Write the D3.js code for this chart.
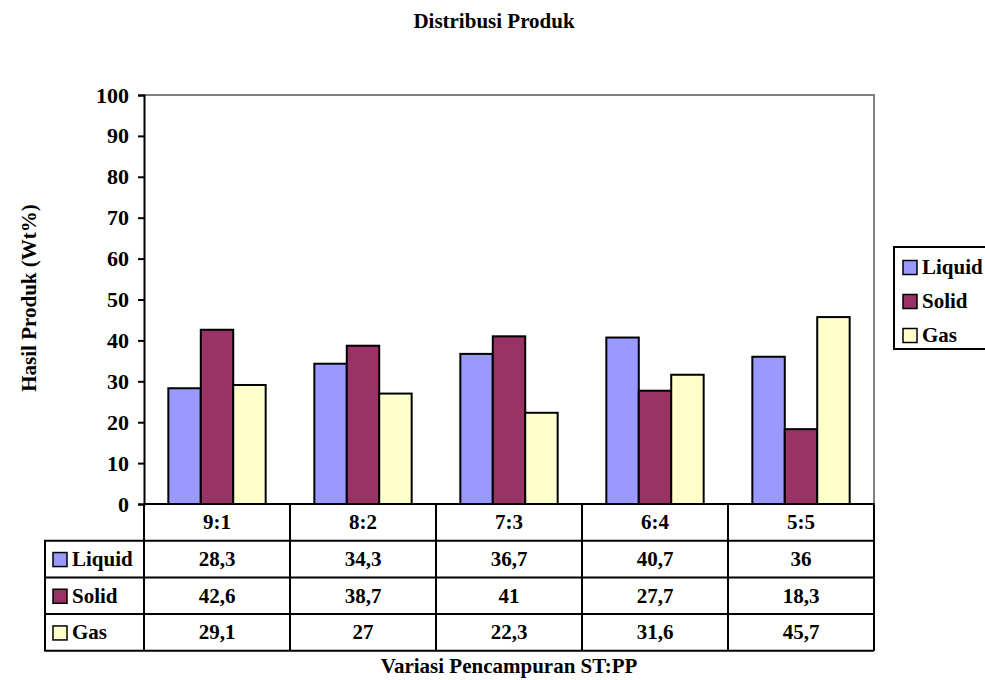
<!DOCTYPE html>
<html>
<head>
<meta charset="utf-8">
<script src="https://cdn.jsdelivr.net/npm/d3@7"></script>
<style>
  html, body { margin: 0; padding: 0; background: #fff; }
  svg { display: block; }
  text { font-family: "Liberation Serif", "Times New Roman", serif; font-weight: bold; fill: #000; }
</style>
</head>
<body>
<svg id="chart" width="985" height="680"></svg>
<script>
// Product distribution per ST:PP blending ratio
const categories = ["9:1", "8:2", "7:3", "6:4", "5:5"];
const seriesNames = ["Liquid", "Solid", "Gas"];
const liquid = [28.3, 34.3, 36.7, 40.7, 36];
const solid = [42.6, 38.7, 41, 27.7, 18.3];
const gas = [29.1, 27, 22.3, 31.6, 45.7];
const yTicks = [0, 10, 20, 30, 40, 50, 60, 70, 80, 90, 100];
const colors = ["#9999FF", "#993366", "#FFFFCC"];

const seriesValues = [liquid, solid, gas];
const series = seriesNames.map((name, i) => ({ name, values: seriesValues[i], color: colors[i] }));

const svg = d3.select("#chart");
const plot = { left: 144, right: 874, top: 95, bottom: 504 };
const rowH = 36.7;
const fs = "21px";

const x0 = d3.scaleBand().domain(categories)
  .range([plot.left, plot.right]).paddingInner(1 / 3).paddingOuter(1 / 6);
const x1 = d3.scaleBand().domain(seriesNames).range([0, x0.bandwidth()]);
const y = d3.scaleLinear().domain([0, 100]).range([plot.bottom, plot.top]);

const fmt = d3.formatLocale({ decimal: ",", thousands: ".", grouping: [3], currency: ["", ""] }).format("~f");

// title
svg.append("text").attr("x", 494).attr("y", 28).attr("text-anchor", "middle")
  .style("font-size", fs).text("Distribusi Produk");

// plot area frame (grey top/right)
svg.append("path")
  .attr("d", `M${plot.left},${plot.top}H${plot.right}V${plot.bottom}`)
  .attr("fill", "none").attr("stroke", "#808080").attr("stroke-width", 2);

// bars
const groups = svg.append("g").selectAll("g").data(categories).join("g")
  .attr("transform", d => `translate(${x0(d)},0)`);
groups.selectAll("rect")
  .data((c, ci) => series.map(s => ({ s, v: s.values[ci] })))
  .join("rect")
  .attr("x", d => x1(d.s.name))
  .attr("y", d => y(d.v))
  .attr("width", x1.bandwidth())
  .attr("height", d => y(0) - y(d.v))
  .attr("fill", d => d.s.color)
  .attr("stroke", "#000").attr("stroke-width", 2);

// y axis
const yAxis = d3.axisLeft(y).tickValues(yTicks).tickSize(6).tickPadding(9).tickFormat(d3.format("d"));
const gy = svg.append("g").attr("transform", `translate(${plot.left},0)`).call(yAxis);
gy.select(".domain").attr("stroke", "#000").attr("stroke-width", 2);
gy.selectAll(".tick line").attr("stroke", "#000").attr("stroke-width", 2);
gy.selectAll(".tick text").style("font-size", "22px")
  .style("font-family", "'Liberation Serif', 'Times New Roman', serif").style("font-weight", "bold")
  .attr("fill", "#000");

// y axis title
svg.append("text").attr("transform", "translate(36,298) rotate(-90)")
  .attr("text-anchor", "middle").style("font-size", fs).text("Hasil Produk (Wt%)");

// data table below the plot
const table = svg.append("g");
const tableLeft = 45;
const rowsY = d3.range(5).map(i => plot.bottom + i * rowH);
const lineStyle = sel => sel.attr("stroke", "#000").attr("stroke-width", 2).attr("fill", "none");

// header row (category labels)
table.append("path").call(lineStyle)
  .attr("d", `M${plot.left},${rowsY[0]}H${plot.right}V${rowsY[4]}`);
// series rows
table.append("path").call(lineStyle)
  .attr("d", `M${plot.right},${rowsY[1]}H${tableLeft}V${rowsY[4]}H${plot.right}`);
[2, 3].forEach(r => table.append("path").call(lineStyle)
  .attr("d", `M${tableLeft},${rowsY[r]}H${plot.right}`));
// column separators
d3.range(categories.length + 1).forEach(i => {
  const xx = plot.left + i * x0.step();
  table.append("path").call(lineStyle).attr("d", `M${xx},${rowsY[0]}V${rowsY[4]}`);
});

categories.forEach(c => {
  table.append("text").attr("x", x0(c) + x0.bandwidth() / 2).attr("y", rowsY[0] + rowH / 2 + 7)
    .attr("text-anchor", "middle").style("font-size", fs).text(c);
});
series.forEach((s, si) => {
  const cy = rowsY[si + 1] + rowH / 2;
  table.append("rect").attr("x", 53).attr("y", cy - 6.5).attr("width", 14).attr("height", 14)
    .attr("fill", s.color).attr("stroke", "#000").attr("stroke-width", 1.5);
  table.append("text").attr("x", 72).attr("y", cy + 7).style("font-size", fs).text(s.name);
  categories.forEach((c, ci) => {
    table.append("text").attr("x", x0(c) + x0.bandwidth() / 2).attr("y", cy + 7)
      .attr("text-anchor", "middle").style("font-size", fs).text(fmt(s.values[ci]));
  });
});

// x axis title
svg.append("text").attr("x", (plot.left + plot.right) / 2).attr("y", 673)
  .attr("text-anchor", "middle").style("font-size", fs).text("Variasi Pencampuran ST:PP");

// legend
const legend = svg.append("g");
legend.append("rect").attr("x", 894).attr("y", 247).attr("width", 110).attr("height", 102)
  .attr("fill", "#fff").attr("stroke", "#000").attr("stroke-width", 2);
series.forEach((s, i) => {
  const cy = 267 + i * 34;
  legend.append("rect").attr("x", 903).attr("y", cy - 6.5).attr("width", 14).attr("height", 14)
    .attr("fill", s.color).attr("stroke", "#000").attr("stroke-width", 1.5);
  legend.append("text").attr("x", 922).attr("y", cy + 7).style("font-size", fs).text(s.name);
});
</script>
</body>
</html>
